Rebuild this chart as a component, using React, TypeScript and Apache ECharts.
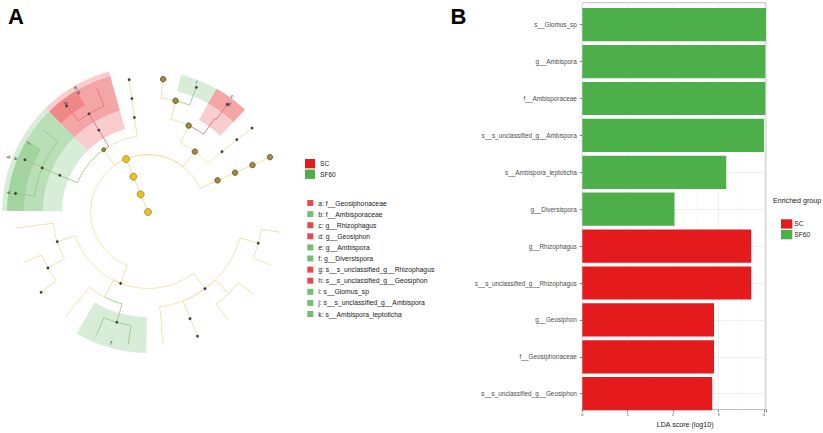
import React, { useEffect, useRef } from "react";
import * as echarts from "echarts";

// ---------------- Panel B: LDA scores ----------------
const features = [
  "s__Glomus_sp",
  "g__Ambispora",
  "f__Ambisporaceae",
  "s__s_unclassified_g__Ambispora",
  "s__Ambispora_leptoticha",
  "g__Diversispora",
  "g__Rhizophagus",
  "s__s_unclassified_g__Rhizophagus",
  "g__Geosiphon",
  "f__Geosiphonaceae",
  "s__s_unclassified_g__Geosiphon",
];
const ldaScores = [4.05, 4.03, 4.03, 4.0, 3.17, 2.03, 3.72, 3.72, 2.9, 2.9, 2.86];
const enrichedIn = ["SF60", "SF60", "SF60", "SF60", "SF60", "SF60", "SC", "SC", "SC", "SC", "SC"];
const ldaTicks = [0, 1, 2, 3, 4];
const groupNames = ["SC", "SF60"];

// ---------------- Panel A: biomarker key ----------------
const cladeLetters = ["a", "b", "c", "d", "e", "f", "g", "h", "i", "j", "k"];
const cladeTaxa = [
  "f__Geosiphonaceae",
  "f__Ambisporaceae",
  "g__Rhizophagus",
  "g__Geosiphon",
  "g__Ambispora",
  "g__Diversispora",
  "s__s_unclassified_g__Rhizophagus",
  "s__s_unclassified_g__Geosiphon",
  "s__Glomus_sp",
  "s__s_unclassified_g__Ambispora",
  "s__Ambispora_leptoticha",
];
const cladeGroup = [0, 1, 0, 0, 1, 1, 0, 0, 1, 1, 1]; // index into groupNames

// ---------------- Panel A: cladogram tree (level = taxonomic rank ring, angle in degrees) ----------------
const nodeLevel = [
  0, 1, 2, 3,
  4, 4, 4, 4,
  5, 5, 5, 5, 5, 5, 5, 5, 5,
  6, 6, 6, 6, 6, 6, 6, 6, 6, 6, 6, 6, 6, 6, 6,
  7, 7, 7, 7, 7, 7, 7, 7, 7, 7, 7, 7, 7, 7, 7, 7, 7, 7, 7, 7, 7, 7, 7,
];
const nodeAngle = [
  112.5, 112.5, 112.5, 112.5,
  24.5, 52.2, 125.4, 249,
  24.3, 39.2, 64.8, 98.2, 121, 157.4, 198.1, 243, 306.6,
  24.2, 39.2, 76.1, 54.5, 98.1, 121, 157.4, 186.8, 209.2, 232, 254.2, 277, 291.5, 314.6, 344.2,
  24.2, 38.9, 83.5, 68.8, 53.6, 98.1, 112.5, 127.5, 142, 157, 172, 187, 202, 216.9, 231.8, 247.3, 261.5, 276.6, 291.7, 306.5, 322, 336.6, 351.3,
];
const nodeParent = [
  -1, 0, 1, 2,
  3, 3, 3, 3,
  4, 5, 5, 6, 6, 6, 7, 7, 7,
  8, 9, 10, 10, 11, 12, 13, 14, 14, 15, 15, 16, 16, 16, 16,
  17, 18, 19, 19, 20, 21, 22, 22, 23, 23, 23, 24, 25, 25, 26, 27, 27, 28, 29, 30, 30, 31, 31,
];
// 0 hidden, 1 small dot, 2 olive, 3 large yellow, 4 small olive
const nodeKind = [
  3, 3, 3, 3,
  2, 2, 4, 1,
  2, 1, 2, 1, 1, 1, 1, 0, 1,
  2, 1, 2, 0, 1, 1, 1, 0, 1, 0, 1, 0, 1, 0, 1,
  2, 1, 2, 1, 1, 1, 0, 1, 0, 1, 1, 0, 0, 1, 0, 0, 0, 0, 1, 0, 0, 0, 0,
];
// 0 not discriminant, 1 SC, 2 SF60
const nodeTone = [
  0, 0, 0, 0,
  0, 0, 0, 0,
  0, 0, 0, 0, 1, 2, 0, 0, 0,
  0, 0, 0, 1, 0, 1, 2, 0, 0, 0, 2, 0, 0, 0, 0,
  0, 0, 0, 2, 1, 0, 1, 1, 2, 2, 2, 0, 0, 0, 0, 2, 2, 0, 0, 0, 0, 0, 0,
];

// shaded biomarker clades (ring levels and angular span)
const shadeClade = [0, 3, 7, 1, 4, 9, 10, 2, 6, 8, 5];
const shadeInner = [4.5, 5.5, 6.5, 4.5, 5.5, 6.5, 6.5, 5.5, 6.5, 6.5, 5.5];
const shadeOuter = [7.64, 7.38, 7.38, 7.64, 7.38, 7.38, 7.38, 7.38, 7.38, 7.38, 7.38];
const shadeFrom = [105.5, 105.5, 120.5, 134.5, 134.5, 149.5, 164.5, 46.5, 46.5, 61, 239.5];
const shadeTo = [134.5, 134.5, 134.5, 179.5, 179.5, 164.5, 179.5, 61, 61, 76.4, 269.3];

// letter labels on the cladogram
const labelClade = [0, 3, 7, 1, 4, 9, 10, 2, 6, 8, 5];
const labelLevel = [7.57, 7.25, 7.14, 7.86, 7.5, 7.25, 7.38, 7.5, 7.1, 7.28, 7.11];
const labelAngle = [120.3, 120.2, 127.1, 158.4, 158, 150, 172, 54, 53, 69.5, 254.2];

const FONT = "Liberation Sans, Arial, Helvetica, sans-serif";
const TEXT = "#1a1a1a";
const groupColors = ["#E41A1C", "#4DAF4A"];
const groupTints = ["rgba(228,26,28,0.22)", "rgba(77,175,74,0.22)"];
const toneColors = ["#F0DFA2", "#E8727A", "#98C98B"];
const kindSize = [0, 2.6, 5.5, 7, 4];
const kindFill = ["none", "#3d3a30", "#A3893A", "#EFC017", "#9E8838"];
const kindBorder = ["none", "#555", "#4f4220", "#8a7b4a", "#4f4220"];

function sampleArc(api: any, lvl: number, a0: number, a1: number) {
  const steps = Math.max(1, Math.ceil(Math.abs(a1 - a0) / 1.5));
  const pts: number[][] = [];
  for (let s = 0; s <= steps; s++) pts.push(api.coord([lvl, a0 + ((a1 - a0) * s) / steps]));
  return pts;
}

export default function App() {
  const ref = useRef<HTMLDivElement>(null);
  useEffect(() => {
    document.body.style.margin = "0";
    if (!ref.current) return;
    const chart = echarts.init(ref.current, null, { renderer: "svg" });

    const sectorData = shadeClade.map((c, i) => [shadeInner[i], shadeOuter[i], shadeFrom[i], shadeTo[i], cladeGroup[c]]);
    const edgeData = nodeLevel
      .map((l, i) => (nodeParent[i] < 0 ? null : [l, nodeAngle[i], nodeLevel[nodeParent[i]], nodeAngle[nodeParent[i]], nodeTone[i]]))
      .filter((d) => d !== null)
      .sort((a: any, b: any) => (a[4] > 0 ? 1 : 0) - (b[4] > 0 ? 1 : 0));
    const nodeData = nodeLevel
      .map((l, i) => ({ value: [l, nodeAngle[i]], kind: nodeKind[i] }))
      .filter((d) => d.kind > 0)
      .map((d) => ({
        value: d.value,
        symbolSize: kindSize[d.kind],
        itemStyle: { color: kindFill[d.kind], borderColor: kindBorder[d.kind], borderWidth: d.kind === 1 ? 0.3 : 0.7, opacity: 1 },
      }));
    const labelData = labelClade.map((c, i) => [labelLevel[i], labelAngle[i], c]);
    const cladeLegendNames = cladeLetters.map((l, i) => `${l}: ${cladeTaxa[i]}`);

    const option: any = {
      animation: false,
      textStyle: { fontFamily: FONT },
      title: [
        { text: "A", left: 8, top: 5, padding: 0, textStyle: { fontSize: 22, fontWeight: "bold", color: "#000", fontFamily: FONT } },
        { text: "B", left: 450.5, top: 5, padding: 0, textStyle: { fontSize: 22, fontWeight: "bold", color: "#000", fontFamily: FONT } },
        { text: "Enriched group", left: 773, top: 197, padding: 0, textStyle: { fontSize: 7.1, fontWeight: "normal", color: TEXT, fontFamily: FONT } },
      ],
      legend: [
        {
          data: groupNames, left: 305, top: 159, orient: "vertical", padding: 0, icon: "rect",
          itemWidth: 10, itemHeight: 9.3, itemGap: 1.3, selectedMode: false,
          textStyle: { fontSize: 6.6, color: TEXT, lineHeight: 9, fontFamily: FONT },
        },
        {
          data: cladeLegendNames, left: 307.3, top: 199, orient: "vertical", padding: 0, icon: "rect",
          itemWidth: 6, itemHeight: 6, itemGap: 3.1, selectedMode: false,
          textStyle: { fontSize: 6.8, color: TEXT, lineHeight: 8, fontFamily: FONT },
        },
        {
          data: groupNames, left: 781, top: 219.3, orient: "vertical", padding: 0, icon: "rect",
          itemWidth: 11.3, itemHeight: 9.3, itemGap: 1.4, selectedMode: false,
          textStyle: { fontSize: 6.6, color: TEXT, lineHeight: 9, fontFamily: FONT, padding: [0, 0, 0, -3] },
        },
      ],
      polar: { center: [148, 212], radius: 152.8 },
      angleAxis: { type: "value", min: 0, max: 360, startAngle: 0, clockwise: false, show: false },
      radiusAxis: { type: "value", min: 0, max: 8, show: false },
      grid: [
        // bar area (discrete axis padded like ggplot: 0.6 of a band at each end)
        { left: 582.3, top: 6.25, width: 183.7, height: 405.9, show: false },
        // panel frame
        { left: 582.3, top: 2.7, width: 183.7, height: 413, show: true, borderColor: "#A8A8A8", borderWidth: 0.8, backgroundColor: "transparent" },
      ],
      xAxis: [
        { gridIndex: 0, type: "value", min: 0, max: 4.045, interval: 1, show: false },
        {
          gridIndex: 1, type: "value", min: 0, max: 4.045, interval: 1,
          axisLine: { show: false },
          axisTick: { show: true, length: 2.5, lineStyle: { color: "#333", width: 0.6 } },
          axisLabel: {
            fontSize: 4, color: "#4D4D4D", margin: 2.5, fontFamily: FONT,
            formatter: (v: number) => (ldaTicks.indexOf(v) >= 0 ? String(v) : ""),
          },
          splitLine: { show: true, lineStyle: { color: "#EBEBEB", width: 0.8 } },
          minorTick: { show: false, splitNumber: 2 },
          minorSplitLine: { show: true, lineStyle: { color: "#F4F4F4", width: 0.5 } },
          name: "LDA score (log10)", nameLocation: "middle", nameGap: 6,
          nameTextStyle: { fontSize: 7.1, color: TEXT, padding: [0, 0, 0, 22], fontFamily: FONT },
        },
      ],
      yAxis: [
        {
          gridIndex: 0, type: "category", data: features, inverse: true,
          axisLine: { show: false },
          axisTick: { show: true, alignWithLabel: true, length: 2.5, lineStyle: { color: "#333", width: 0.6 } },
          axisLabel: { fontSize: 6.4, color: "#4D4D4D", margin: 5.5, fontFamily: FONT },
          splitLine: { show: true, alignWithLabel: true, lineStyle: { color: "#EBEBEB", width: 0.8 } },
        },
        { gridIndex: 1, type: "value", min: 0, max: 1, show: false },
      ],
      series: [
        ...groupNames.map((g, gi) => ({
          name: g, type: "bar", stack: "lda", barCategoryGap: "10%", xAxisIndex: 0, yAxisIndex: 0, z: 3,
          itemStyle: { color: groupColors[gi] },
          data: ldaScores.map((v, i) => (enrichedIn[i] === g ? v : "-")),
        })),
        ...cladeLegendNames.map((n, i) => ({
          name: n, type: "scatter", coordinateSystem: "polar", data: [],
          itemStyle: { color: groupColors[cladeGroup[i]] },
        })),
        {
          type: "custom", coordinateSystem: "polar", silent: true, z: 1,
          data: sectorData,
          renderItem: (_p: any, api: any) => {
            const r0 = api.value(0), r1 = api.value(1), a0 = api.value(2), a1 = api.value(3), g = api.value(4);
            const pts = sampleArc(api, r1, a0, a1).concat(sampleArc(api, r0, a1, a0));
            return { type: "polygon", shape: { points: pts }, style: { fill: groupTints[g], stroke: null } };
          },
        },
        {
          type: "custom", coordinateSystem: "polar", silent: true, z: 2,
          data: edgeData,
          renderItem: (_p: any, api: any) => {
            const lc = api.value(0), ac = api.value(1), lp = api.value(2), ap = api.value(3), t = api.value(4);
            const pts = [api.coord([lc, ac])].concat(sampleArc(api, lp, ac, ap));
            return { type: "polyline", shape: { points: pts }, style: { stroke: toneColors[t], lineWidth: 0.9, fill: null } };
          },
        },
        {
          type: "scatter", coordinateSystem: "polar", silent: true, z: 3,
          data: nodeData,
        },
        {
          type: "custom", coordinateSystem: "polar", silent: true, z: 4,
          data: labelData,
          renderItem: (_p: any, api: any) => {
            const p = api.coord([api.value(0), api.value(1)]);
            let rot = api.value(1) - 90;
            while (rot > 90) rot -= 180;
            while (rot <= -90) rot += 180;
            return {
              type: "text", x: p[0], y: p[1], rotation: (rot * Math.PI) / 180,
              style: { text: cladeLetters[api.value(2)], fontSize: 5.5, fill: "#333", align: "center", verticalAlign: "middle", fontFamily: FONT },
            };
          },
        },
      ],
    };
    chart.setOption(option);
    return () => chart.dispose();
  }, []);
  return <div ref={ref} style={{ width: 823, height: 433 }} />;
}
